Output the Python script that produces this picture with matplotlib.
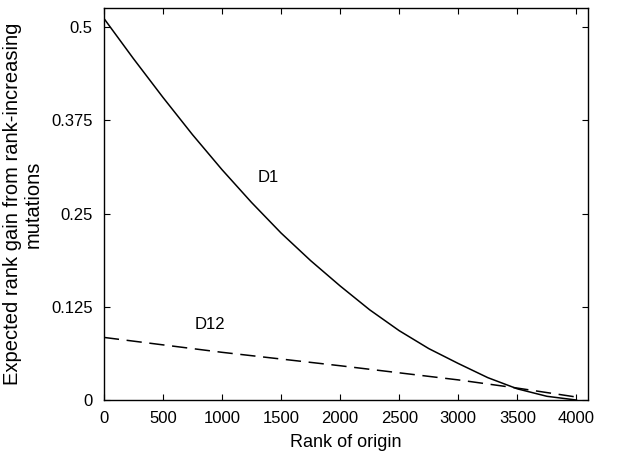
import matplotlib
matplotlib.use('Agg')
import matplotlib.pyplot as plt

# values
rank = [0, 250, 500, 750, 1000, 1250, 1500, 1750, 2000, 2250, 2500,
        2750, 3000, 3250, 3500, 3750, 4000]
d1 = [0.512, 0.458, 0.406, 0.356, 0.309, 0.265, 0.224, 0.187, 0.153,
      0.121, 0.093, 0.069, 0.049, 0.030, 0.015, 0.005, 0.000]
rank12 = [0, 1000, 2000, 3000, 3500, 4000]
d12 = [0.084, 0.064, 0.046, 0.027, 0.016, 0.004]

xticks = [0, 500, 1000, 1500, 2000, 2500, 3000, 3500, 4000]
yticks = [0, 0.125, 0.25, 0.375, 0.5]
ytick_labels = ['0', '0.125', '0.25', '0.375', '0.5']

plt.rcParams['font.family'] = ['Liberation Sans', 'DejaVu Sans']

fig = plt.figure(figsize=(6.41, 4.63), dpi=100)
ax = fig.add_axes([0.162, 0.136, 0.755, 0.847])

ax.plot(rank, d1, color='black', lw=1.1)
ax.plot(rank12, d12, color='black', lw=1.1, dashes=(10, 5))

ax.text(1390, 0.298, 'D1', fontsize=12, ha='center', va='center')
ax.text(900, 0.101, 'D12', fontsize=12, ha='center', va='center')

ax.set_xlim(0, 4096)
ax.set_ylim(0, 0.526)
ax.set_xticks(xticks)
ax.set_yticks(yticks)
ax.set_yticklabels(ytick_labels)
ax.tick_params(direction='in', top=True, right=True, labelsize=12, length=4, pad=8)
for s in ax.spines.values():
    s.set_linewidth(1.0)

ax.set_xlabel('Rank of origin', fontsize=13, labelpad=6)
ax.set_ylabel('Expected rank gain from rank-increasing\nmutations', fontsize=14.5,
              labelpad=6, linespacing=1.1)

fig.savefig('out.png', dpi=100)
